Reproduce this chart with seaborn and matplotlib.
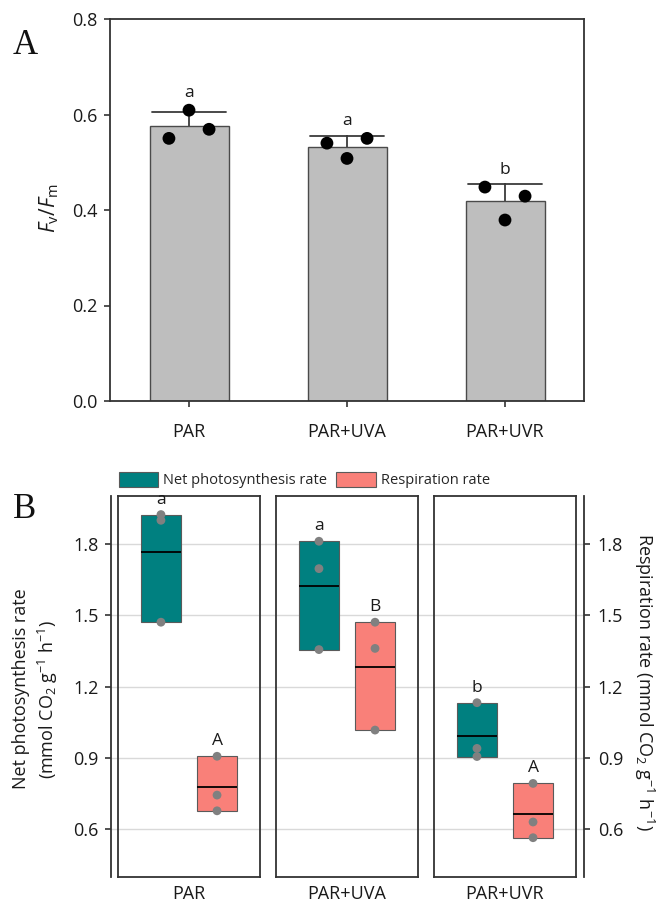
import numpy as np
import pandas as pd
import matplotlib
matplotlib.use("Agg")
import matplotlib.pyplot as plt
from matplotlib.patches import Patch
import seaborn as sns

# ---------------- data ----------------
categories = ["PAR", "PAR+UVA", "PAR+UVR"]

# Panel A: Fv/Fm replicates (three per treatment)
fvfm_rep1 = [0.550, 0.540, 0.448]
fvfm_rep2 = [0.609, 0.508, 0.379]
fvfm_rep3 = [0.569, 0.550, 0.429]
fvfm_letters = ["a", "a", "b"]

# Panel B: replicates of net photosynthesis and respiration
photo_par = [1.470, 1.898, 1.922]
photo_uva = [1.355, 1.695, 1.810]
photo_uvr = [0.906, 0.940, 1.132]
resp_par = [0.678, 0.744, 0.907]
resp_uva = [1.017, 1.360, 1.470]
resp_uvr = [0.565, 0.631, 0.793]
photo_letters = ["a", "a", "b"]
resp_letters = ["A", "B", "A"]
series_names = ["Net photosynthesis rate", "Respiration rate"]

# ---------------- style ----------------
sns.set_theme(style="ticks")
plt.rcParams["font.family"] = ["Open Sans", "DejaVu Sans"]
plt.rcParams["mathtext.fontset"] = "custom"
plt.rcParams["mathtext.rm"] = "Open Sans"
plt.rcParams["mathtext.it"] = "Open Sans:italic"
plt.rcParams["mathtext.bf"] = "Open Sans:bold"

W, H = 656, 907
fig = plt.figure(figsize=(W / 100, H / 100), dpi=100)
fig.patch.set_facecolor("white")

spine_c = "#333333"
txt_c = "#1a1a1a"
teal = "#008080"
pink = "#F98079"

def fx(px):
    return px / W

def fy(py):
    return 1 - py / H

# ---------------- Panel A ----------------
axA = fig.add_axes([fx(110), fy(401), fx(474), 382 / H])
df_a = pd.DataFrame({
    "treatment": categories * 3,
    "rep": [0] * 3 + [1] * 3 + [2] * 3,
    "fvfm": fvfm_rep1 + fvfm_rep2 + fvfm_rep3,
})
sns.barplot(data=df_a, x="treatment", y="fvfm", order=categories,
            color="#BEBEBE", saturation=1, width=0.5,
            errorbar="sd", capsize=0.47,
            err_kws={"color": "#3a3a3a", "linewidth": 1.3, "zorder": 0.5},
            edgecolor="#4a4a4a", linewidth=1.0, ax=axA)
rep_offset = [-0.127, 0.0, 0.127]
df_a["xpos"] = [categories.index(t) + rep_offset[r] for t, r in zip(df_a["treatment"], df_a["rep"])]
sns.scatterplot(data=df_a, x="xpos", y="fvfm", color="black", s=85,
                edgecolor="none", zorder=3, legend=False, ax=axA)

stats_a = df_a.groupby("treatment")["fvfm"].agg(["mean", "std", "max"]).reindex(categories)
for i, cat in enumerate(categories):
    top = max(stats_a.loc[cat, "mean"] + stats_a.loc[cat, "std"], stats_a.loc[cat, "max"] + 0.012)
    axA.annotate(fvfm_letters[i], xy=(i, top), xytext=(0, 2.5), textcoords="offset points",
                 ha="center", va="bottom", fontsize=12.5, color=txt_c)

axA.set_xlim(-0.5, 2.5)
axA.set_ylim(0, 0.8)
axA.set_yticks([0.0, 0.2, 0.4, 0.6, 0.8])
axA.set_yticklabels(["0.0", "0.2", "0.4", "0.6", "0.8"])
axA.set_xticks(range(3))
axA.set_xticklabels(categories)
axA.set_xlabel("")
axA.set_ylabel("")
for s in axA.spines.values():
    s.set_visible(True)
    s.set_color(spine_c)
    s.set_linewidth(1.3)
axA.tick_params(axis="y", length=4.5, width=1.2, pad=4.5, labelsize=13, color=spine_c, labelcolor=txt_c)
axA.tick_params(axis="x", length=4.5, width=1.2, pad=11, labelsize=13, color=spine_c, labelcolor=txt_c)
fig.text(fx(49), fy(208), r"$F_\mathrm{v}/F_\mathrm{m}$", rotation=90,
         ha="center", va="center", fontsize=15, color=txt_c)
fig.text(fx(25), fy(46), "A", family=["Liberation Serif", "DejaVu Serif"],
         fontsize=25, ha="center", va="center", color="#111111")

# ---------------- Panel B ----------------
photo_sets = [photo_par, photo_uva, photo_uvr]
resp_sets = [resp_par, resp_uva, resp_uvr]
ylimB = (0.4, 2.0)
yticksB = [0.6, 0.9, 1.2, 1.5, 1.8]

axB = fig.add_axes([fx(111), fy(877), fx(473), 381 / H])
axB.set_ylim(*ylimB)
axB.set_xlim(0, 1)
axB.set_xticks([])
axB.set_yticks(yticksB)
axB.set_yticklabels([f"{v:.1f}" for v in yticksB])
axB.grid(axis="y", color="#D9D9D9", linewidth=1.0)
axB.spines["top"].set_visible(False)
axB.spines["bottom"].set_visible(False)
axB.spines["right"].set_visible(False)
axB.spines["left"].set_color(spine_c)
axB.spines["left"].set_linewidth(1.3)
axB.tick_params(axis="y", length=4.5, width=1.2, pad=4.5, labelsize=13, color=spine_c, labelcolor=txt_c)

axR = axB.twinx()
axR.set_ylim(*ylimB)
axR.set_yticks(yticksB)
axR.set_yticklabels([f"{v:.1f}" for v in yticksB])
for side in ["top", "bottom", "left"]:
    axR.spines[side].set_visible(False)
axR.spines["right"].set_color(spine_c)
axR.spines["right"].set_linewidth(1.3)
axR.tick_params(axis="y", length=4.5, width=1.2, pad=5.5, labelsize=13, color=spine_c, labelcolor=txt_c)

panel_lefts = [118, 276, 434]
off = 0.237
bw = 0.338
for i, cat in enumerate(categories):
    ax = fig.add_axes([fx(panel_lefts[i]), fy(877), fx(142), 381 / H])
    ax.patch.set_alpha(0)
    rows = []
    for j, (vals, color, letters) in enumerate([(photo_sets[i], teal, photo_letters),
                                                 (resp_sets[i], pink, resp_letters)]):
        xc = -off if j == 0 else off
        lo, hi, mean = min(vals), max(vals), float(np.mean(vals))
        ax.bar(xc, hi - lo, bottom=lo, width=bw, color=color,
               edgecolor="#5a5a5a", linewidth=0.8, zorder=2)
        ax.hlines(mean, xc - bw / 2, xc + bw / 2, color="black", linewidth=1.3, zorder=3)
        ax.annotate(letters[i], xy=(xc, hi), xytext=(0, 5), textcoords="offset points",
                    ha="center", va="bottom", fontsize=12.5, color=txt_c)
        for v in vals:
            rows.append({"x": xc, "value": v})
    df_pts = pd.DataFrame(rows)
    sns.scatterplot(data=df_pts, x="x", y="value", color="#808080", s=40,
                    edgecolor="none", zorder=4, legend=False, ax=ax)
    ax.set_xlim(-0.6, 0.6)
    ax.set_ylim(*ylimB)
    ax.set_yticks([])
    ax.set_xticks([0])
    ax.set_xticklabels([cat])
    ax.set_xlabel("")
    ax.set_ylabel("")
    ax.tick_params(axis="x", length=0, pad=6, labelsize=13, labelcolor=txt_c)
    for s in ax.spines.values():
        s.set_visible(True)
        s.set_color(spine_c)
        s.set_linewidth(1.3)

fig.text(fx(21), fy(689), "Net photosynthesis rate", rotation=90,
         ha="center", va="center", fontsize=13, color=txt_c)
fig.text(fx(48), fy(700), r"(mmol CO$_2$ g$^{-1}$ h$^{-1}$)", rotation=90,
         ha="center", va="center", fontsize=13, color=txt_c)
fig.text(fx(644), fy(682), r"Respiration rate (mmol CO$_2$ g$^{-1}$ h$^{-1}$)", rotation=270,
         ha="center", va="center", fontsize=13, color=txt_c)
fig.text(fx(25), fy(509), "B", family=["Liberation Serif", "DejaVu Serif"],
         fontsize=25, ha="center", va="center", color="#111111")

handles = [Patch(facecolor=teal, edgecolor="#5a5a5a", linewidth=0.8, label=series_names[0]),
           Patch(facecolor=pink, edgecolor="#5a5a5a", linewidth=0.8, label=series_names[1])]
fig.legend(handles=handles, loc="center left", bbox_to_anchor=(fx(119), fy(480)),
           ncol=2, frameon=False, fontsize=10.5, handlelength=2.7, handleheight=1.25,
           handletextpad=0.35, columnspacing=0.6, borderpad=0, borderaxespad=0)

fig.savefig("out.png", dpi=100, facecolor="white")
